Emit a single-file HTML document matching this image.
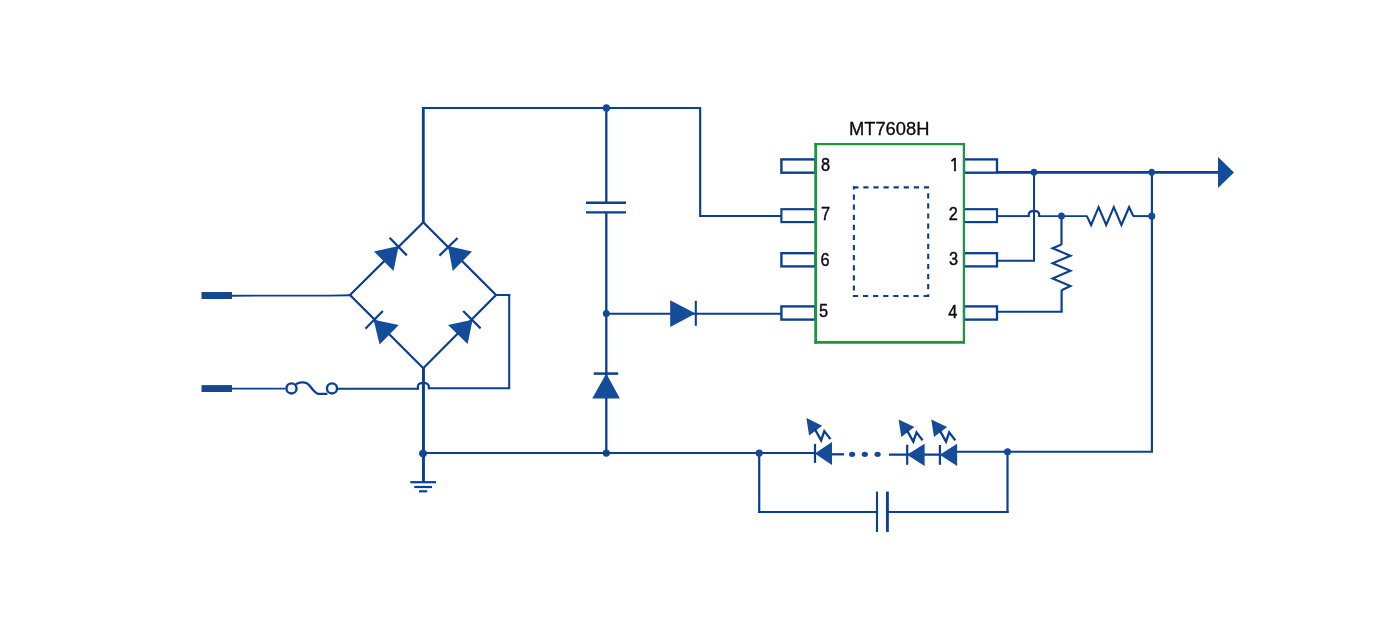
<!DOCTYPE html>
<html lang="en">
<head>
<meta charset="utf-8">
<title>MT7608H typical application circuit</title>
<style>
html,body{margin:0;padding:0;background:#ffffff;}
body{width:1400px;height:636px;overflow:hidden;position:relative;font-family:"Liberation Sans",sans-serif;}
svg{position:absolute;left:0;top:0;display:block;will-change:transform;}
.w{fill:none;stroke:#0b3f90;stroke-width:2.2;stroke-linejoin:miter;stroke-linecap:butt;}
.f{fill:#154c99;stroke:none;}
.d{fill:#13489a;stroke:none;}
.pin{fill:#ffffff;stroke:#0b3f90;stroke-width:2.35;}
.g{fill:none;stroke:#1b9540;stroke-width:2.6;}
.dash{fill:none;stroke:#0b3f90;stroke-width:2.1;stroke-dasharray:5.2 4.9;}
text{font-family:"Liberation Sans",sans-serif;fill:#0a0a0a;stroke:#0a0a0a;stroke-width:0.4;}
.n{font-size:18.6px;}
.one{font-family:"NanumGothic","IPAGothic","Liberation Sans",sans-serif;stroke-width:0.7;}
.t{font-size:17.8px;stroke-width:0.3;}
</style>
</head>
<body>
<svg width="1400" height="636" viewBox="0 0 1400 636">
<rect x="0" y="0" width="1400" height="636" fill="#ffffff"/>
<g id="terminals">
<rect class="f" x="201.5" y="292" width="30.5" height="7" style="fill:#164890"/>
<rect class="f" x="201.5" y="385.1" width="30.5" height="6.9" style="fill:#164890"/>
<path class="w" d="M232 295.65 L330 295.6 L350.5 295.2" style="stroke-width:1.95"/>
<path class="w" d="M232 388.6 L285.6 388.6" style="stroke-width:1.95"/>
</g>
<g id="fuse">
<circle cx="291.5" cy="388.4" r="5.05" fill="#f6f7fa" stroke="#0b3f90" stroke-width="2.4"/>
<circle cx="332.0" cy="388.4" r="5.05" fill="#f6f7fa" stroke="#0b3f90" stroke-width="2.4"/>
<path class="w" d="M296 384.2 C298.8 382.2 303.7 381.6 306.8 383.2 C310.7 385.6 313.2 392 317.8 393.8 L327.4 393.8" style="stroke-width:2.3"/>
<path class="w" d="M337.8 388.75 L419 388.75" style="stroke-width:1.95"/>
</g>
<g id="bridge">
<path class="w" d="M350 295 L423.3 222.3 L496 295 L423.3 368.2 Z" style="stroke-width:2.25"/>
<path class="f" d="M398.6 246 L374 251.5 L393.5 271 Z"/>
<path class="w" d="M389.6 237.8 L406.8 255.4" style="stroke-width:2.25"/>
<path class="f" d="M448 246 L472 251.5 L452.8 271 Z"/>
<path class="w" d="M457.6 238 L439.4 255.6" style="stroke-width:2.25"/>
<path class="f" d="M373.6 319.8 L398.8 325 L379.6 344.4 Z"/>
<path class="w" d="M382.8 311 L365.4 328.8" style="stroke-width:2.25"/>
<path class="f" d="M472.6 319.8 L448 325 L467.6 344 Z"/>
<path class="w" d="M463.2 311 L480.6 328.4" style="stroke-width:2.25"/>
</g>
<g id="leftrail">
<path class="w" d="M423.3 223 L423.3 107" style="stroke-width:2.8"/>
<path class="w" d="M422 107.9 L700.9 107.9" style="stroke-width:1.95"/>
<path class="w" d="M700.15 107.3 L700.15 216.85" style="stroke-width:2.15"/>
<path class="w" d="M699.4 215.9 L781 215.9" style="stroke-width:1.95"/>
<path class="w" d="M423.45 367.5 L423.45 482.2" style="stroke-width:2.95"/>
<path class="w" d="M496 295.0 L510.2 295.0" style="stroke-width:1.95"/>
<path class="w" d="M509.2 294.1 L509.2 389.15" style="stroke-width:2.05"/>
<path class="w" d="M428.8 388.2 L509.2 388.2" style="stroke-width:1.95"/>
<path class="w" d="M428.8 389.2 L428.8 386 C428.1 383.8 426.6 382.9 423.4 382.9 C420.2 382.9 418.6 383.8 417.9 385.6 L417.9 389.5" style="stroke-width:2.2"/>
<ellipse class="d" cx="423.0" cy="453.5" rx="3.95" ry="3.65"/>
<path class="w" d="M410.3 482.2 L436 482.2" style="stroke-width:2.2"/>
<path class="w" d="M414.3 487.0 L432 487.0" style="stroke-width:2.2"/>
<path class="w" d="M419 491.3 L427.2 491.3" style="stroke-width:2.2"/>
</g>
<g id="midcol">
<path class="w" d="M606.3 108 L606.3 202.8" style="stroke-width:2.35"/>
<path class="w" d="M586 202.8 L626 202.8" style="stroke-width:2.4"/>
<path class="w" d="M586 212.4 L626 212.4" style="stroke-width:2.4"/>
<path class="w" d="M606.3 212.4 L606.3 453" style="stroke-width:2.35"/>
<path class="w" d="M606.3 313.7 L781 313.7" style="stroke-width:1.95"/>
<path class="f" d="M670.2 300.2 L670.2 326.9 L695.6 313.6 Z"/>
<path class="w" d="M695.8 300.8 L695.8 325.8" style="stroke-width:2.1"/>
<path class="w" d="M593.8 373.6 L618.2 373.6" style="stroke-width:2.5"/>
<path class="f" d="M606.3 373.6 L592.2 398.5 L619.9 398.5 Z"/>
<ellipse class="d" cx="606.4" cy="108.1" rx="3.6" ry="3.8"/>
<ellipse class="d" cx="606.3" cy="313.4" rx="3.45" ry="3.5"/>
<ellipse class="d" cx="606.3" cy="453.1" rx="3.6" ry="3.6"/>
</g>
<g id="bottomrail">
<path class="w" d="M423 452.95 L815 452.95" style="stroke-width:2.1"/>
<path class="w" d="M759.2 453 L759.2 512.9" style="stroke-width:2.2"/>
<path class="w" d="M758.1 511.95 L877 511.95" style="stroke-width:1.95"/>
<path class="w" d="M877 491.6 L877 531.9" style="stroke-width:2.1"/>
<path class="w" d="M887.4 491.6 L887.4 531.9" style="stroke-width:2.9"/>
<path class="w" d="M887.4 511.95 L1008.6 511.95" style="stroke-width:1.95"/>
<path class="w" d="M1007.5 451.7 L1007.5 512.9" style="stroke-width:2.2"/>
<path class="w" d="M956.5 451.7 L1152.95 451.7" style="stroke-width:1.95"/>
<path class="w" d="M1151.9 172.3 L1151.9 451.7" style="stroke-width:2.15"/>
<ellipse class="d" cx="759.2" cy="453.1" rx="3.6" ry="3.6"/>
<ellipse class="d" cx="1007.5" cy="451.7" rx="3.5" ry="3.5"/>
</g>
<g id="leds">
<path class="w" d="M815.0 443.9 L815.0 462.9" style="stroke-width:2.2"/>
<path class="f" d="M814.8 453.4 L832.0 442.0 L832.0 465.1 Z"/>
<path class="f" d="M806.4 418.1 L822.2 425.7 L809.1 435.6 Z"/>
<path class="w" d="M814.6 428.7 L821.1 440.3 L824.3 431.1 L830.4 439.1" style="stroke-width:2.35"/>
<path class="w" d="M831.5 454.3 L844 454.3" style="stroke-width:2.3"/>
<ellipse class="d" cx="852.1" cy="454.3" rx="3.1" ry="2.6"/>
<ellipse class="d" cx="864.8" cy="454.3" rx="3.1" ry="2.6"/>
<ellipse class="d" cx="877.6" cy="454.3" rx="3.1" ry="2.6"/>
<path class="w" d="M889 454.6 L941 454.6" style="stroke-width:2.3"/>
<path class="w" d="M907.2 444.7 L907.2 464.8" style="stroke-width:2.2"/>
<path class="f" d="M907.0 454.7 L924.6 443.7 L924.6 465.9 Z"/>
<path class="f" d="M898.6 419.4 L914.4 427.0 L901.3 436.9 Z"/>
<path class="w" d="M906.8 430.0 L913.3 441.6 L916.5 432.4 L922.6 440.4" style="stroke-width:2.35"/>
<path class="w" d="M939.9 445.0 L939.9 464.8" style="stroke-width:2.2"/>
<path class="f" d="M939.7 454.7 L957.1 443.8 L957.1 465.9 Z"/>
<path class="f" d="M931.3 419.4 L947.1 427.0 L934.0 436.9 Z"/>
<path class="w" d="M939.5 430.0 L946.0 441.6 L949.2 432.4 L955.3 440.4" style="stroke-width:2.35"/>
</g>
<g id="ic">
<rect class="pin" x="781.4" y="159.4" width="34" height="13.3" style="stroke-width:2.4"/>
<rect class="pin" x="781.4" y="209.2" width="34" height="12.9" style="stroke-width:2.15"/>
<rect class="pin" x="781.4" y="253.2" width="34" height="13.2" style="stroke-width:2.35"/>
<rect class="pin" x="781.4" y="306.4" width="34" height="13.2" style="stroke-width:2.35"/>
<rect class="pin" x="964" y="159.4" width="33" height="13.3" style="stroke-width:2.35"/>
<rect class="pin" x="964" y="209.2" width="33" height="12.9" style="stroke-width:2.15"/>
<rect class="pin" x="964" y="253.2" width="33" height="13.2" style="stroke-width:2.3"/>
<rect class="pin" x="964" y="306.4" width="33" height="13.2" style="stroke-width:2.35"/>
<rect x="817" y="145.4" width="145.7" height="195.7" fill="#ffffff"/>
<path class="g" d="M815.7 142.9 L815.7 343.7" style="stroke-width:2.8"/>
<path class="g" d="M963.9 142.9 L963.9 343.7" style="stroke-width:2.2"/>
<path class="g" d="M814.3 144.1 L965 144.1" style="stroke-width:2.4"/>
<path class="g" d="M814.3 342.4 L965 342.4" style="stroke-width:2.6"/>
<path class="dash" d="M853.2 187.4 L929.25 187.4"/>
<path class="dash" d="M928.2 193.2 L928.2 297.05"/>
<path class="dash" d="M928.8 296 L852.85 296"/>
<path class="dash" d="M853.9 290.6 L853.9 186.35"/>
<text class="t" x="849" y="134.9" textLength="80.4" lengthAdjust="spacingAndGlyphs">MT7608H</text>
<text class="n" transform="translate(820.9 171.3) scale(0.88 1.02)">8</text>
<text class="n" transform="translate(820.9 220.1) scale(0.88 1.02)">7</text>
<text class="n" transform="translate(820.6 265.6) scale(0.88 1.02)">6</text>
<text class="n" transform="translate(819.0 317.4) scale(0.88 1.02)">5</text>
<text class="n" transform="translate(948.7 220.1) scale(0.88 1.02)">2</text>
<text class="n" transform="translate(949.0 265.1) scale(0.88 1.02)">3</text>
<text class="n" transform="translate(948.3 317.7) scale(0.88 1.02)">4</text>
<text class="n one" transform="translate(949.1 170.5) scale(0.95 1)">1</text>
</g>
<g id="output">
<path class="w" d="M997 172.3 L1219 172.3" style="stroke-width:2.75"/>
<path class="f" d="M1218 157 L1218 188 L1234 172.4 Z"/>
<path class="w" d="M998 260.8 L1035.0 260.8" style="stroke-width:1.95"/>
<path class="w" d="M1034.0 172.3 L1034.0 260.8" style="stroke-width:2.05"/>
<path class="w" d="M998 216.1 L1028.8 216.1" style="stroke-width:1.95"/>
<path class="w" d="M1028.8 217.1 L1028.8 213.5 C1029.5 211.6 1031 210.8 1034 210.8 C1037 210.8 1038.4 211.6 1039.1 213.5 L1039.1 217.1" style="stroke-width:2.15"/>
<path class="w" d="M1039.1 216.1 L1087.4 216.1" style="stroke-width:1.95"/>
<path class="w" d="M1086.9 216.1 L1091.1 225 L1098.6 207.2 L1106.2 225 L1113.8 207.2 L1121.4 225 L1129.1 207.2 L1133.3 216.1" style="stroke-width:2.15"/>
<path class="w" d="M1132.8 216.1 L1151.9 216.1" style="stroke-width:1.95"/>
<path class="w" d="M998 311.7 L1062.7 311.7" style="stroke-width:1.95"/>
<path class="w" d="M1061.6 311.7 L1061.6 289.8" style="stroke-width:2.2"/>
<path class="w" d="M1061.6 290.2 L1070.4 286 L1052.6 278.4 L1070.4 270.8 L1052.6 263.3 L1070.4 255.7 L1052.6 248.3 L1061.5 244.4" style="stroke-width:2.15"/>
<path class="w" d="M1061.5 244.8 L1061.5 216.1" style="stroke-width:2.2"/>
<ellipse class="d" cx="1034.0" cy="172.2" rx="3.3" ry="3.4"/>
<ellipse class="d" cx="1151.7" cy="172.3" rx="3.2" ry="3.5"/>
<ellipse class="d" cx="1061.5" cy="216.1" rx="3.4" ry="3.5"/>
<ellipse class="d" cx="1151.8" cy="216.1" rx="3.5" ry="3.6"/>
</g>
</svg>
</body>
</html>
